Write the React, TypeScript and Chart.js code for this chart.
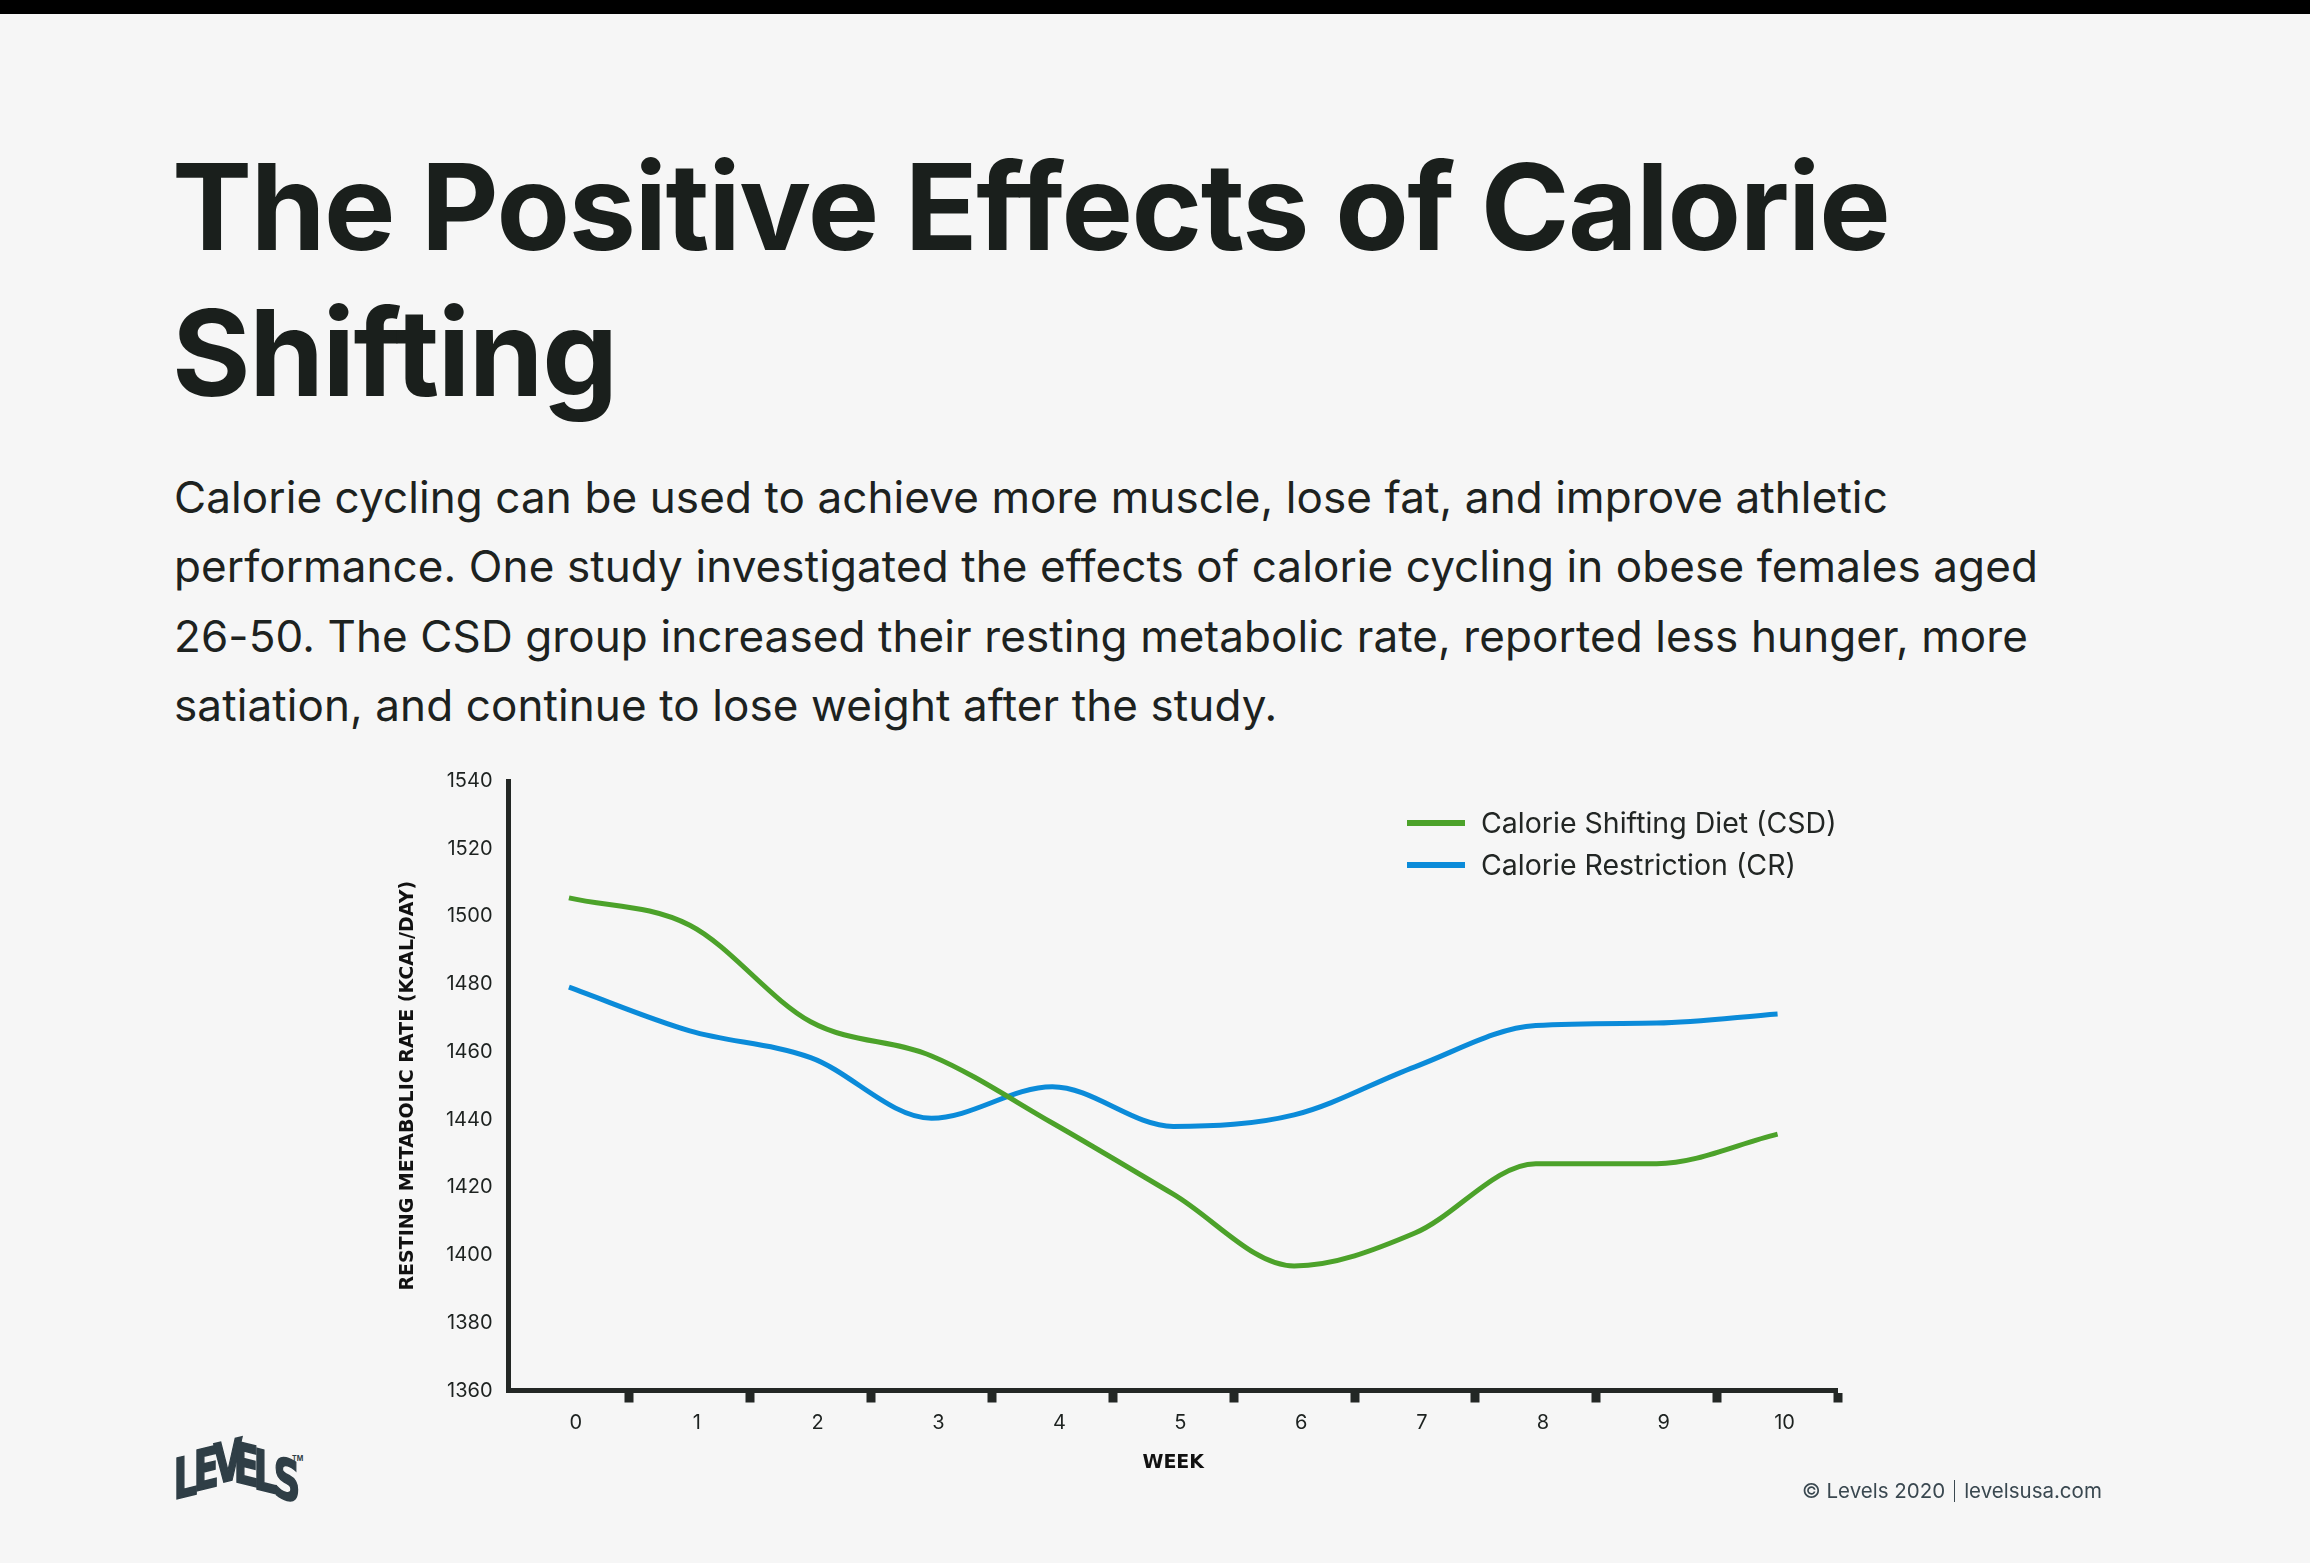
import React, { useEffect, useRef } from 'react';
import { Chart, registerables } from 'chart.js';

Chart.register(...registerables);

const weeks = ['0', '1', '2', '3', '4', '5', '6', '7', '8', '9', '10'];
const csdValues = [1505.5, 1497.4, 1468.9, 1458.8, 1439, 1418, 1396.8, 1406.5, 1427, 1427, 1435.7];
const crValues = [1479.1, 1466.2, 1458.3, 1440.4, 1449.7, 1438, 1441.4, 1455.6, 1467.8, 1468.5, 1471.2];
const seriesLabels = ['Calorie Shifting Diet (CSD)', 'Calorie Restriction (CR)'];
const seriesColors = ['#4ca22a', '#0b8bd9'];
const yMin = 1360;
const yMax = 1540;
const yStep = 20;
const xTitle = 'WEEK';
const yTitle = 'RESTING METABOLIC RATE (KCAL/DAY)';

const titleLines = ['The Positive Effects of Calorie', 'Shifting'];
const bodyLines = [
  'Calorie cycling can be used to achieve more muscle, lose fat, and improve athletic',
  'performance. One study investigated the effects of calorie cycling in obese females aged',
  '26-50. The CSD group increased their resting metabolic rate, reported less hunger, more',
  'satiation, and continue to lose weight after the study.',
];
const logoLetters = ['L', 'E', 'V', 'E', 'L', 'S'];

const AXIS = '#232725';
const TEXT = '#1d2220';

const cornerLegend = {
  id: 'cornerLegend',
  afterDraw(chart: any) {
    const { ctx, chartArea } = chart;
    const x0 = chartArea.right - 431;
    chart.data.datasets.forEach((ds: any, i: number) => {
      const y = chartArea.top + 42 + i * 42;
      ctx.save();
      ctx.strokeStyle = ds.borderColor;
      ctx.lineWidth = 6;
      ctx.lineCap = 'butt';
      ctx.beginPath();
      ctx.moveTo(x0, y);
      ctx.lineTo(x0 + 58, y);
      ctx.stroke();
      ctx.fillStyle = '#222624';
      ctx.font = '28.5px Inter';
      ctx.textBaseline = 'middle';
      ctx.textAlign = 'left';
      ctx.fillText(ds.label, x0 + 74, y + 1);
      ctx.restore();
    });
  },
};

function CalorieChart() {
  const ref = useRef<HTMLCanvasElement | null>(null);
  useEffect(() => {
    if (!ref.current) return;
    const chart = new Chart(ref.current, {
      type: 'line',
      data: {
        labels: weeks,
        datasets: [
          {
            label: seriesLabels[0],
            data: csdValues,
            borderColor: seriesColors[0],
            borderWidth: 5,
            pointRadius: 0,
            cubicInterpolationMode: 'monotone',
            fill: false,
          },
          {
            label: seriesLabels[1],
            data: crValues,
            borderColor: seriesColors[1],
            borderWidth: 5,
            pointRadius: 0,
            cubicInterpolationMode: 'monotone',
            fill: false,
          },
        ],
      },
      options: {
        responsive: false,
        animation: false,
        devicePixelRatio: 1,
        layout: { padding: { left: 0, top: 41, right: 22, bottom: 0 } },
        plugins: {
          legend: { display: false },
          tooltip: { enabled: false },
        },
        scales: {
          x: {
            type: 'category',
            offset: true,
            grid: {
              display: true,
              offset: true,
              drawOnChartArea: false,
              drawTicks: true,
              tickLength: 12,
              tickWidth: 9,
              tickColor: (ctx: any) => (ctx.index === 0 ? 'rgba(0,0,0,0)' : AXIS),
              lineWidth: 0,
            },
            border: { display: true, width: 5, color: AXIS },
            ticks: {
              color: TEXT,
              font: { family: 'Inter', size: 20 },
              padding: 8,
              labelOffset: 7,
              maxRotation: 0,
              autoSkip: false,
            },
            title: {
              display: true,
              text: xTitle,
              color: '#111',
              font: { family: '"DejaVu Sans"', size: 19, weight: 'bold' },
              padding: { top: 0, bottom: 26 },
            },
            afterFit: (scale: any) => {
              scale.height = 109.5;
            },
          },
          y: {
            min: yMin,
            max: yMax,
            grid: { display: false, drawTicks: false },
            border: { display: true, width: 5, color: AXIS },
            ticks: {
              stepSize: yStep,
              color: TEXT,
              font: { family: 'Inter', size: 20 },
              padding: 16,
              callback: (v: any) => String(v),
            },
            title: {
              display: true,
              text: yTitle,
              color: '#111',
              font: { family: '"DejaVu Sans"', size: 19, weight: 'bold' },
              padding: { top: 17, bottom: 0 },
            },
            afterFit: (scale: any) => {
              scale.width = 128.5;
            },
          },
        },
      },
      plugins: [cornerLegend],
    } as any);
    return () => chart.destroy();
  }, []);
  return (
    <canvas
      ref={ref}
      width={1480}
      height={760}
      style={{ position: 'absolute', left: 380, top: 740, width: 1480, height: 760 }}
    />
  );
}

export default function App() {
  const logoOffsets = [15, 7, 0, 0, 7, 15];
  const logoSkews = [-14, -14, -14, 14, 14, 14];
  return (
    <div
      style={{
        position: 'fixed',
        left: 0,
        top: 0,
        width: 2310,
        height: 1563,
        background: '#f6f6f6',
        overflow: 'hidden',
        fontFamily: 'Inter, sans-serif',
      }}
    >
      <div style={{ position: 'absolute', left: 0, top: 0, width: 2310, height: 14, background: '#000' }} />
      <div
        style={{
          position: 'absolute',
          left: 172,
          top: 134,
          fontSize: 120,
          fontWeight: 700,
          lineHeight: '146px',
          color: '#1a1f1c',
          whiteSpace: 'nowrap',
          letterSpacing: -1.4,
        }}
      >
        {titleLines.map((t, i) => (
          <div key={i}>{t}</div>
        ))}
      </div>
      <div
        style={{
          position: 'absolute',
          left: 174,
          top: 463,
          fontSize: 44,
          fontWeight: 400,
          lineHeight: '69.3px',
          color: TEXT,
          whiteSpace: 'nowrap',
          letterSpacing: 0.1,
        }}
      >
        {bodyLines.map((t, i) => (
          <div key={i}>{t}</div>
        ))}
      </div>
      <CalorieChart />
      <div style={{ position: 'absolute', left: 171, top: 1436, height: 80, whiteSpace: 'nowrap' }}>
        {logoLetters.map((l, i) => (
          <span
            key={i}
            style={{
              display: 'inline-block',
              fontFamily: '"Liberation Sans Narrow", "DejaVu Sans Condensed", sans-serif',
              fontWeight: 700,
              fontSize: 56,
              lineHeight: '56px',
              color: '#2f3e46',
              WebkitTextStroke: '1.6px #2f3e46',
              width: 20,
              textAlign: 'center',
              transform: `translateY(${logoOffsets[i]}px) skewY(${logoSkews[i]}deg) scaleX(0.74)`,
            }}
          >
            {l}
          </span>
        ))}
        <span style={{ position: 'absolute', left: 121, top: 18, fontSize: 7, color: '#2f3e46', fontWeight: 700 }}>TM</span>
      </div>
      <div
        style={{
          position: 'absolute',
          left: 1802,
          top: 1478,
          fontSize: 20.5,
          lineHeight: '26px',
          color: '#3a4850',
          whiteSpace: 'nowrap',
          display: 'flex',
          alignItems: 'center',
        }}
      >
        <span>© Levels 2020</span>
        <span style={{ display: 'inline-block', width: 1, height: 22, background: '#3a4850', margin: '0 9px' }} />
        <span>levelsusa.com</span>
      </div>
    </div>
  );
}
